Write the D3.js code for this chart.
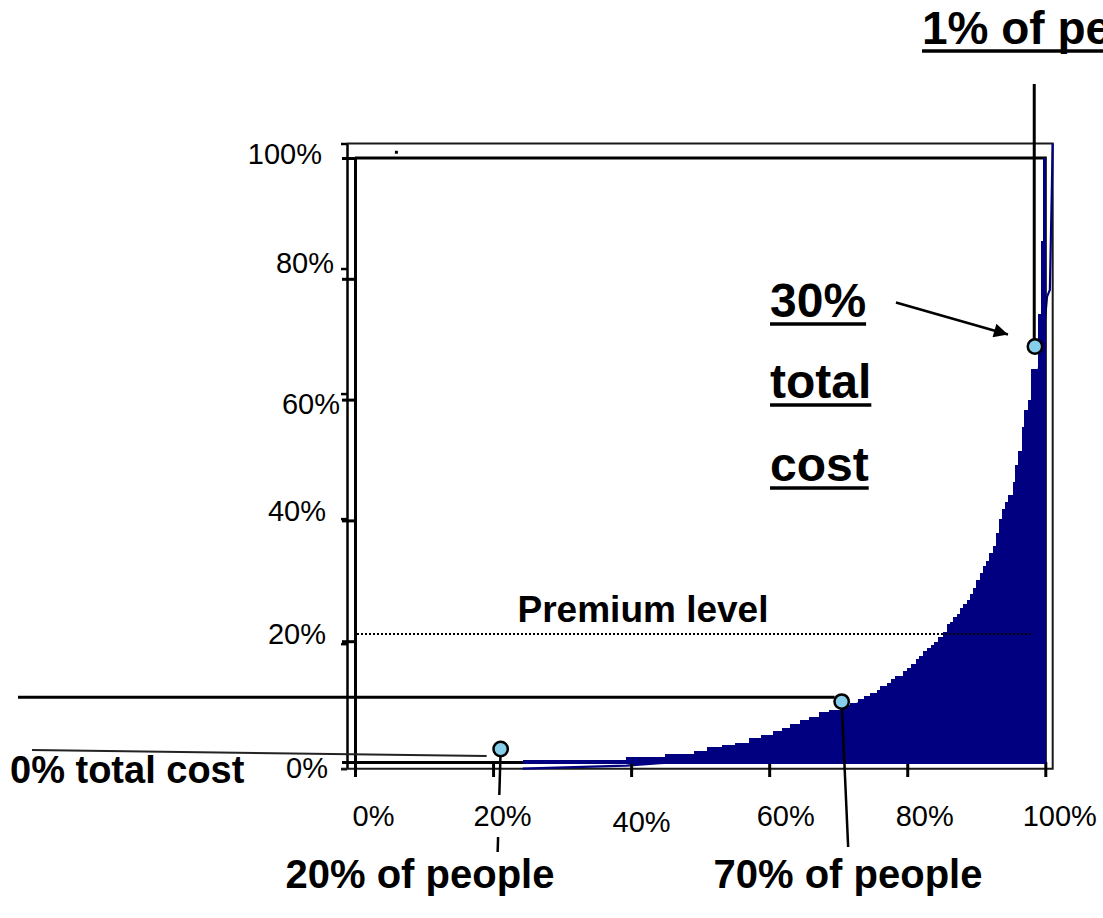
<!DOCTYPE html>
<html>
<head>
<meta charset="utf-8">
<script src="https://cdn.jsdelivr.net/npm/d3@7"></script>
<style>
  html, body { margin: 0; padding: 0; background: #fff; overflow: hidden; }
  svg { display: block; }
  text { font-family: "Liberation Sans", Arial, Helvetica, sans-serif; fill: #000; }
</style>
</head>
<body>
<svg id="chart" width="1103" height="918"></svg>
<script>
// Cumulative cost bars: each step starts at a share of people and has a share of total cost
const stepPeople = [0.243, 0.393, 0.449, 0.491, 0.510, 0.531, 0.551, 0.571, 0.588, 0.606,
  0.618, 0.630, 0.644, 0.658, 0.672, 0.687, 0.702, 0.717, 0.729, 0.737,
  0.746, 0.756, 0.761, 0.770, 0.776, 0.782, 0.794, 0.800, 0.806, 0.812,
  0.817, 0.823, 0.828, 0.834, 0.839, 0.845, 0.852, 0.857, 0.862, 0.866,
  0.872, 0.876, 0.881, 0.887, 0.891, 0.895, 0.900, 0.905, 0.910, 0.914,
  0.919, 0.924, 0.929, 0.933, 0.937, 0.942, 0.946, 0.953, 0.956, 0.961,
  0.966, 0.969, 0.975, 0.980, 0.989, 0.994, 0.997];
const stepCost = [0.003, 0.008, 0.013, 0.019, 0.025, 0.028, 0.031, 0.039, 0.044, 0.052,
  0.057, 0.063, 0.070, 0.075, 0.082, 0.086, 0.094, 0.098, 0.104, 0.109,
  0.114, 0.120, 0.126, 0.130, 0.137, 0.142, 0.150, 0.155, 0.162, 0.170,
  0.176, 0.183, 0.189, 0.194, 0.199, 0.207, 0.216, 0.228, 0.232, 0.240,
  0.245, 0.255, 0.262, 0.268, 0.278, 0.288, 0.301, 0.313, 0.325, 0.333,
  0.346, 0.358, 0.379, 0.402, 0.419, 0.430, 0.442, 0.464, 0.492, 0.515,
  0.555, 0.583, 0.600, 0.651, 0.742, 0.863, 1.000];

// Cumulative cost curve on the outer frame
const curvePeople = [0.249, 0.396, 0.443, 0.481, 0.55, 0.60, 0.65, 0.70, 0.75, 0.80,
  0.85, 0.90, 0.93, 0.95, 0.97, 0.986, 0.992, 0.996, 1.0];
const curveCost = [0, 0.005, 0.009, 0.011, 0.025, 0.045, 0.066, 0.092, 0.118, 0.148,
  0.205, 0.295, 0.375, 0.455, 0.565, 0.681, 0.755, 0.766, 1.0];

// Axis ticks and labels
const axisTicks = [0, 0.2, 0.4, 0.6, 0.8, 1];
const tickLabels = ["0%", "20%", "40%", "60%", "80%", "100%"];

// Premium level and highlighted points (share of people, share of cost)
const premiumLevel = 0.212;
const markerPeople = [0.211, 0.705, 0.985];
const markerCost = [0.0215, 0.100, 0.688];

const NAVY = "#000080";
const DOT = "#87CEEB";

const svg = d3.select("#chart");

// Outer frame scales (curve) and inner frame scales (bars)
const x1 = d3.scaleLinear().domain([0, 1]).range([347, 1052.7]);
const y1 = d3.scaleLinear().domain([0, 1]).range([768.7, 143.5]);
const x2 = d3.scaleLinear().domain([0, 1]).range([355, 1045.3]);
const y2 = d3.scaleLinear().domain([0, 1]).range([762, 158]);

const defs = svg.append("defs");
defs.append("marker")
  .attr("id", "arrowHead")
  .attr("viewBox", "0 0 10 10")
  .attr("refX", 10).attr("refY", 5)
  .attr("markerUnits", "userSpaceOnUse")
  .attr("markerWidth", 20).attr("markerHeight", 14)
  .attr("orient", "auto")
  .append("path").attr("d", "M0,0 L10,5 L0,10 Z").attr("fill", "#000");

// ---- outer frame ----
const outer = svg.append("g");
outer.append("g")
  .attr("transform", `translate(${x1(0)},0)`)
  .call(d3.axisLeft(y1).tickValues(axisTicks).tickSize(6).tickSizeOuter(0).tickFormat(""))
  .call(g => g.selectAll("path, line").attr("stroke", "#000").attr("stroke-width", 2.5));
outer.append("path")
  .attr("d", `M${x1(0)},${y1(1)} H${x1(1)} V${y1(0)} H${x1(0) - 6}`)
  .attr("fill", "none").attr("stroke", "#1a1a1a").attr("stroke-width", 2);
outer.append("rect")
  .attr("x", x1(0.07) - 1.5).attr("y", y1(0.986) - 1.5)
  .attr("width", 3).attr("height", 3).attr("fill", "#000");

// cumulative curve
const curvePts = curvePeople.map((p, i) => [p, curveCost[i]]);
outer.append("path")
  .datum(curvePts)
  .attr("d", d3.line().x(d => x1(d[0])).y(d => y1(d[1])))
  .attr("fill", "none").attr("stroke", NAVY).attr("stroke-width", 2.2);

// ---- inner frame ----
const inner = svg.append("g");
inner.append("g")
  .attr("transform", `translate(${x2(0)},0)`)
  .call(d3.axisLeft(y2).tickValues(axisTicks).tickSize(13).tickSizeOuter(0).tickFormat(""))
  .call(g => g.selectAll("path, line").attr("stroke", "#000").attr("stroke-width", 3));
inner.append("g")
  .attr("transform", `translate(0,${y2(0)})`)
  .call(d3.axisBottom(x2).tickValues(axisTicks).tickSize(15).tickSizeOuter(0).tickFormat(""))
  .call(g => g.selectAll("path, line").attr("stroke", "#000").attr("stroke-width", 3));
inner.append("path")
  .attr("d", `M${x2(0)},${y2(1)} H${x2(1)} V${y2(0)}`)
  .attr("fill", "none").attr("stroke", "#000").attr("stroke-width", 3);

// bars
const steps = stepPeople.map((p, i) => ({
  x0: p, x1: i < stepPeople.length - 1 ? stepPeople[i + 1] : 1, v: stepCost[i]
}));
inner.append("g").selectAll("rect").data(steps).join("rect")
  .attr("x", d => x2(d.x0))
  .attr("width", d => x2(d.x1) - x2(d.x0) + 0.4)
  .attr("y", d => y2(d.v))
  .attr("height", d => y2(0) + 1.5 - y2(d.v))
  .attr("fill", NAVY)
  .attr("shape-rendering", "crispEdges");

// ---- tick labels ----
const yLabelNudge = { 1: [-33, -5], 0.8: [-21, -17], 0.6: [-15, 3], 0.4: [-29, -10], 0.2: [-29, -8], 0: [-27, 5] };
svg.append("g")
  .attr("transform", `translate(${x2(0)},0)`)
  .call(d3.axisLeft(y2).tickValues(axisTicks).tickSize(0)
    .tickFormat((d, i) => tickLabels[i]))
  .call(g => g.select(".domain").remove())
  .call(g => g.selectAll("text")
    .attr("font-family", "Liberation Sans, Arial, sans-serif")
    .attr("font-size", 29)
    .attr("fill", "#000")
    .attr("x", d => yLabelNudge[d][0])
    .attr("y", d => yLabelNudge[d][1])
    .attr("dy", "0.36em"));

const xLabelNudge = { 0: [18, 0], 0.2: [9, 0], 0.4: [10, 6], 0.6: [16, 0], 0.8: [17, 0], 1: [14, 0] };

// pointer from the 20% marker runs behind the tick label
const ann = svg.append("g");
ann.append("line")
  .attr("x1", x2(markerPeople[0])).attr("y1", y2(markerCost[0]))
  .attr("x2", x2(markerPeople[0]) - 3).attr("y2", y2(0) + 90)
  .attr("stroke", "#000").attr("stroke-width", 2.5);

svg.append("g")
  .attr("transform", `translate(0,${y2(0)})`)
  .call(d3.axisBottom(x2).tickValues(axisTicks).tickSize(0).tickPadding(0)
    .tickFormat((d, i) => tickLabels[i]))
  .call(g => g.select(".domain").remove())
  .call(g => g.selectAll(".tick").filter(d => d === 0.2)
    .insert("rect", "text")
    .attr("x", xLabelNudge[0.2][0] - 32).attr("y", 33)
    .attr("width", 64).attr("height", 42).attr("fill", "#fff"))
  .call(g => g.selectAll("text")
    .attr("font-family", "Liberation Sans, Arial, sans-serif")
    .attr("font-size", 29)
    .attr("fill", "#000")
    .attr("x", d => xLabelNudge[d][0])
    .attr("y", d => 64 + xLabelNudge[d][1])
    .attr("dy", 0));

// ---- premium level ----
svg.append("line")
  .attr("x1", x2(0) + 2).attr("x2", x2(0.98))
  .attr("y1", y2(premiumLevel)).attr("y2", y2(premiumLevel))
  .attr("stroke", "#000").attr("stroke-width", 2).attr("stroke-dasharray", "2,2");
svg.append("text")
  .attr("x", 643).attr("y", y2(premiumLevel) - 12)
  .attr("text-anchor", "middle")
  .attr("font-size", 37).attr("font-weight", "bold")
  .text("Premium level");

// ---- annotations ----
const mx = markerPeople.map(p => x2(p));
const my = markerCost.map(c => y2(c));

// 0% total cost
ann.append("line")
  .attr("x1", 32).attr("y1", my[0] + 1)
  .attr("x2", mx[0] - 14).attr("y2", my[0] + 7)
  .attr("stroke", "#222").attr("stroke-width", 2);
ann.append("text").attr("x", 10).attr("y", 783)
  .attr("font-size", 38).attr("font-weight", "bold").text("0% total cost");

// 70% of people
ann.append("line")
  .attr("x1", 18).attr("y1", my[1] - 4.4)
  .attr("x2", mx[1] - 7).attr("y2", my[1] - 4.4)
  .attr("stroke", "#000").attr("stroke-width", 3);
ann.append("line")
  .attr("x1", mx[1]).attr("y1", my[1])
  .attr("x2", mx[1] + 6.5).attr("y2", 847)
  .attr("stroke", "#000").attr("stroke-width", 2.5);

// 1% of people
ann.append("line")
  .attr("x1", mx[2] - 0.7).attr("y1", 84)
  .attr("x2", mx[2] - 0.7).attr("y2", my[2])
  .attr("stroke", "#000").attr("stroke-width", 3);

// arrow to the 1% marker
ann.append("line")
  .attr("x1", mx[2] - 139).attr("y1", my[2] - 44)
  .attr("x2", mx[2] - 27).attr("y2", my[2] - 12)
  .attr("stroke", "#000").attr("stroke-width", 2.5)
  .attr("marker-end", "url(#arrowHead)");

// markers
ann.selectAll("circle").data(markerPeople).join("circle")
  .attr("cx", (d, i) => mx[i]).attr("cy", (d, i) => my[i])
  .attr("r", 7.2)
  .attr("fill", DOT).attr("stroke", "#000").attr("stroke-width", 2.5);

// text helpers
function underlined(str, x, y, size) {
  const t = ann.append("text").attr("x", x).attr("y", y)
    .attr("font-size", size).attr("font-weight", "bold").text(str);
  const w = t.node().getComputedTextLength();
  ann.append("line")
    .attr("x1", x).attr("x2", x + w)
    .attr("y1", y + 7).attr("y2", y + 7)
    .attr("stroke", "#000").attr("stroke-width", 3.5);
}
underlined("1% of people", 922, 44, 46);
underlined("30%", 770, 317, 48);
underlined("total", 770, 398, 48);
underlined("cost", 770, 481, 48);

ann.append("text").attr("x", 420).attr("y", 888).attr("text-anchor", "middle")
  .attr("font-size", 40).attr("font-weight", "bold").text("20% of people");
ann.append("text").attr("x", 848).attr("y", 888).attr("text-anchor", "middle")
  .attr("font-size", 40).attr("font-weight", "bold").text("70% of people");
</script>
</body>
</html>
